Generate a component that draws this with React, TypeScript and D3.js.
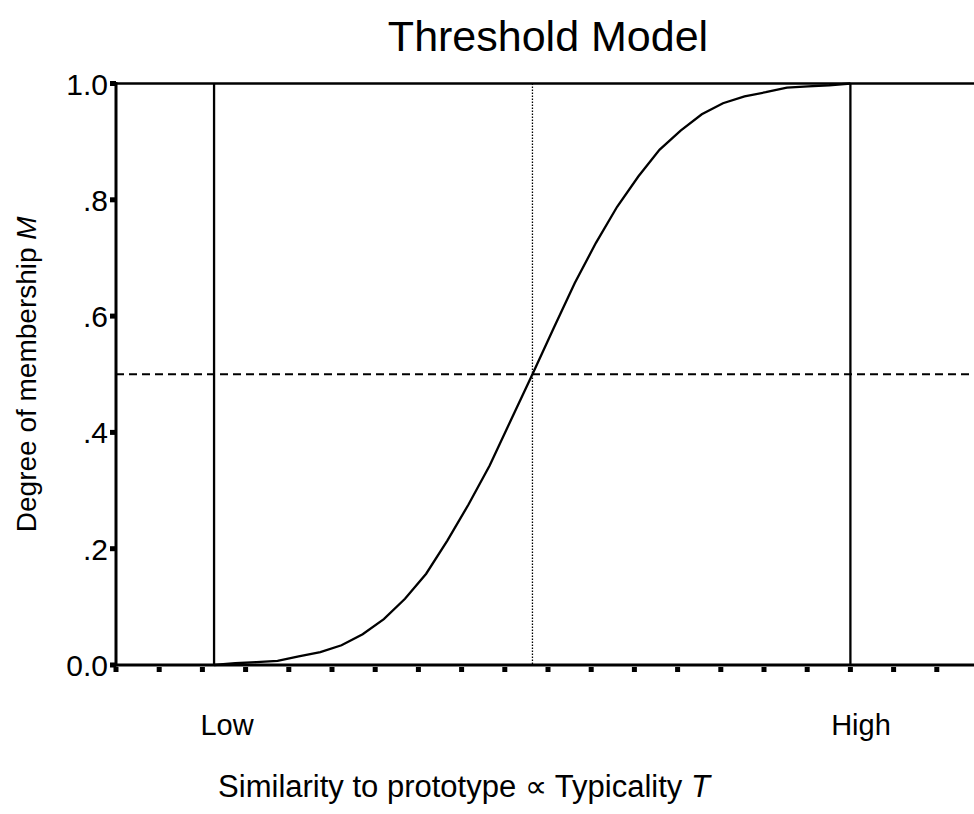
import React from "react";
import * as d3 from "d3";

const W = 974;
const H = 814;

// Typicality positions (axis units, one unit per tick) and membership values
const typicality = [2.27, 2.76, 3.25, 3.74, 4.23, 4.73, 5.22, 5.71, 6.2, 6.69, 7.18, 7.67, 8.16, 8.65, 9.14, 9.64, 10.13, 10.62, 11.11, 11.6, 12.09, 12.58, 13.07, 13.56, 14.05, 14.55, 15.04, 15.53, 16.02, 16.51, 17.0];
const membership = [0, 0.003, 0.005, 0.007, 0.015, 0.022, 0.034, 0.053, 0.079, 0.114, 0.157, 0.214, 0.276, 0.343, 0.421, 0.5, 0.579, 0.657, 0.726, 0.788, 0.84, 0.886, 0.919, 0.947, 0.966, 0.978, 0.985, 0.993, 0.995, 0.997, 1.0];

const lowT = 2.27;
const highT = 17.0;
const midT = 9.64;
const threshold = 0.5;

const yTicks = [0, 0.2, 0.4, 0.6, 0.8, 1.0];
const yTickLabels = ["0.0", ".2", ".4", ".6", ".8", "1.0"];
const xTicks = d3.range(0, 20, 1);

const FONT = "'Liberation Sans', Arial, Helvetica, sans-serif";

export default function App() {
  const x = d3.scaleLinear().domain([0, 20]).range([116, 980]);
  const y = d3.scaleLinear().domain([0, 1]).range([665, 83.5]);

  const pts: [number, number][] = typicality.map((t, i) => [t, membership[i]]);
  const line = d3
    .line<[number, number]>()
    .x((d) => x(d[0]))
    .y((d) => y(d[1]));

  const xLeft = x(0);
  const xRight = W;

  return (
    <svg
      width={W}
      height={H}
      style={{ position: "absolute", left: 0, top: 0, display: "block", background: "#fff" }}
      fontFamily={FONT}
    >
      <rect x={0} y={0} width={W} height={H} fill="#fff" />
      {/* title */}
      <text x={548} y={51} textAnchor="middle" fontSize={43} fill="#000">
        Threshold Model
      </text>

      {/* top frame line */}
      <line x1={xLeft} x2={xRight} y1={y(1)} y2={y(1)} stroke="#000" strokeWidth={2.5} />

      {/* threshold dashed line */}
      <line
        x1={xLeft}
        x2={xRight}
        y1={y(threshold)}
        y2={y(threshold)}
        stroke="#000"
        strokeWidth={2}
        strokeDasharray="8,5"
      />

      {/* midpoint dotted line */}
      <line
        x1={x(midT)}
        x2={x(midT)}
        y1={y(1)}
        y2={y(0)}
        stroke="#000"
        strokeWidth={1.3}
        strokeDasharray="1.5,1.5"
      />

      {/* low / high vertical lines */}
      <line x1={x(lowT)} x2={x(lowT)} y1={y(1)} y2={y(0)} stroke="#000" strokeWidth={2.3} />
      <line x1={x(highT)} x2={x(highT)} y1={y(1)} y2={y(0)} stroke="#000" strokeWidth={2.3} />

      {/* curve */}
      <path d={line(pts) || ""} fill="none" stroke="#000" strokeWidth={2.3} />

      {/* axes */}
      <line x1={xLeft} x2={xRight} y1={y(0)} y2={y(0)} stroke="#000" strokeWidth={3} />
      <line x1={xLeft} x2={xLeft} y1={y(1) - 1.5} y2={y(0) + 1.5} stroke="#000" strokeWidth={3} />

      {/* x ticks (small squares) */}
      {xTicks.map((t) => (
        <rect key={"xt" + t} x={x(t) - 2.5} y={667} width={5} height={5} fill="#000" />
      ))}

      {/* y ticks + labels */}
      {yTicks.map((t, i) => (
        <g key={"yt" + t}>
          <rect x={110} y={y(t) - 2.5} width={6} height={5} fill="#000" />
          <text
            x={108}
            y={y(t) + 11}
            textAnchor="end"
            fontSize={30}
            fill="#000"
          >
            {yTickLabels[i]}
          </text>
        </g>
      ))}

      {/* category labels */}
      <text x={227} y={735} textAnchor="middle" fontSize={29} fill="#000">
        Low
      </text>
      <text x={861} y={735} textAnchor="middle" fontSize={29} fill="#000">
        High
      </text>

      {/* x axis title */}
      <text x={464} y={797} textAnchor="middle" fontSize={31} fill="#000">
        Similarity to prototype {"\u221D"} Typicality <tspan fontStyle="italic">T</tspan>
      </text>

      {/* y axis title */}
      <text
        transform={`translate(36, ${y(0.5)}) rotate(-90)`}
        textAnchor="middle"
        fontSize={28}
        fill="#000"
      >
        Degree of membership <tspan fontStyle="italic">M</tspan>
      </text>
    </svg>
  );
}
